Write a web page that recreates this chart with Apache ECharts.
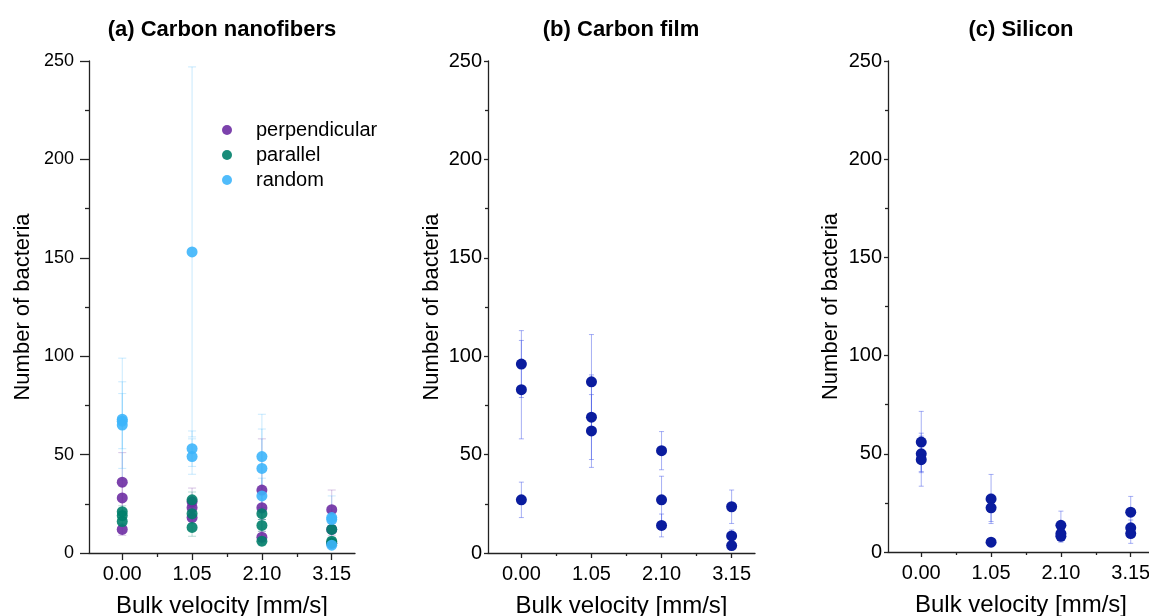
<!DOCTYPE html>
<html>
<head>
<meta charset="utf-8">
<script src="https://cdn.jsdelivr.net/npm/echarts@6/dist/echarts.min.js"></script>
<style>
  html, body { margin: 0; padding: 0; background: #fff; }
  #chart { width: 1149px; height: 616px; }
</style>
</head>
<body>
<div id="chart"></div>
<script>
// bulk velocities (mm/s), three replicates each
const velocities = [0, 1.05, 2.10, 3.15];
const velocityLabels = ["0.00", "1.05", "2.10", "3.15"];
const yTicks = [0, 50, 100, 150, 200, 250];

// (a) carbon nanofibers
const perpMean = [[36, 28, 12], [26, 23, 18], [32, 23, 8], [22, 12, 5]];
const perpErr = [[15, 6, 3], [7, 4, 3], [26, 6, 3], [10, 3, 2]];
const parMean = [[21, 19, 16], [27, 20, 13], [20, 14, 6], [12, 6, 5]];
const parErr = [[3, 2, 2], [4, 3, 4.5], [3, 3, 2], [2, 2, 2]];
const randMean = [[68, 67, 65], [153, 53, 49], [49, 43, 29], [18, 17, 4]];
const randErr = [[31, 14, 22], [94, 9, 9], [21.5, 20, 9], [11, 5, 1.5]];

// (b) carbon film
const filmMean = [[96, 83, 27], [87, 69, 62], [52, 27, 14], [23.5, 8.7, 3.8]];
const filmErr = [[17, 25, 9], [24, 21.5, 18.5], [9.7, 12, 5.8], [8.5, 3, 2]];

// (c) silicon
const siMean = [[56, 50, 47], [27, 22.5, 5], [13.6, 9.4, 8], [20.3, 12.3, 9.4]];
const siErr = [[15.6, 9, 13.5], [12.5, 7, 1], [7.2, 3, 3], [8, 4, 5]];

const FONT = "'Liberation Sans', Arial, sans-serif";

// [x, y, err] rows
function rows(means, errs) {
  const out = [];
  velocities.forEach((v, i) => {
    means[i].forEach((m, j) => out.push([v, m, errs[i][j]]));
  });
  return out;
}

function errorBars(name, idx, data, color, capHalf) {
  return {
    name: name,
    type: "custom",
    xAxisIndex: idx,
    yAxisIndex: idx,
    z: 1,
    silent: true,
    data: data,
    encode: { x: 0, y: 1 },
    renderItem: (params, api) => {
      const x = api.value(0), y = api.value(1), e = api.value(2);
      const hi = api.coord([x, y + e]);
      const lo = api.coord([x, y - e]);
      const style = { stroke: color, lineWidth: 1 };
      return {
        type: "group",
        children: [
          { type: "line", shape: { x1: hi[0], y1: hi[1], x2: lo[0], y2: lo[1] }, style: style },
          { type: "line", shape: { x1: hi[0] - capHalf, y1: hi[1], x2: hi[0] + capHalf, y2: hi[1] }, style: style },
          { type: "line", shape: { x1: lo[0] - capHalf, y1: lo[1], x2: lo[0] + capHalf, y2: lo[1] }, style: style },
        ],
      };
    },
  };
}

function points(name, idx, data, color, opacity) {
  return {
    name: name,
    type: "scatter",
    xAxisIndex: idx,
    yAxisIndex: idx,
    z: 3,
    symbolSize: 11,
    data: data.map((r) => [r[0], r[1]]),
    itemStyle: { color: color, opacity: opacity },
  };
}

const grids = [
  { left: 89, top: 61, width: 266, height: 492, outerBoundsMode: "none" },
  { left: 488, top: 61, width: 267, height: 492, outerBoundsMode: "none" },
  { left: 888, top: 61, width: 266, height: 491, outerBoundsMode: "none" },
];

// per panel axis look
const look = [
  { yFont: 18, yMargin: 15, yTick: 9, yMinor: 4, xTick: 7, xMinor: 4, yNameGap: 55 },
  { yFont: 20, yMargin: 6, yTick: 4, yMinor: 3, xTick: 5, xMinor: 3, yNameGap: 45 },
  { yFont: 20, yMargin: 6, yTick: 4, yMinor: 3, xTick: 5, xMinor: 3, yNameGap: 46 },
];
const axisLineStyle = { color: "#222", width: 1.3 };

const xAxes = [];
const yAxes = [];
look.forEach((l, i) => {
  xAxes.push({
    type: "value",
    gridIndex: i,
    min: -0.5,
    max: 3.5,
    name: "Bulk velocity [mm/s]",
    nameLocation: "middle",
    nameGap: 41,
    nameTextStyle: { fontFamily: FONT, fontSize: 24, color: "#000" },
    axisLine: { show: true, onZero: false, lineStyle: axisLineStyle },
    axisTick: { show: true, length: l.xTick, customValues: velocities, lineStyle: axisLineStyle },
    axisLabel: {
      customValues: velocities,
      formatter: (v) => velocityLabels[velocities.findIndex((t) => Math.abs(t - v) < 1e-6)] || "",
      fontFamily: FONT,
      fontSize: 20,
      color: "#000",
      margin: 11,
      hideOverlap: false,
    },
    splitLine: { show: false },
  });
  yAxes.push({
    type: "value",
    gridIndex: i,
    min: 0,
    max: 250,
    interval: 50,
    name: "Number of bacteria",
    nameLocation: "middle",
    nameGap: l.yNameGap,
    nameTextStyle: { fontFamily: FONT, fontSize: 22, color: "#000" },
    axisLine: { show: true, onZero: false, lineStyle: axisLineStyle },
    axisTick: { show: true, length: l.yTick, lineStyle: axisLineStyle },
    minorTick: { show: true, splitNumber: 2, length: l.yMinor, lineStyle: axisLineStyle },
    axisLabel: { fontFamily: FONT, fontSize: l.yFont, color: "#000", margin: l.yMargin },
    splitLine: { show: false },
  });
});
// minor x ticks between velocities
look.forEach((l, i) => {
  xAxes.push({
    type: "value",
    gridIndex: i,
    min: -0.5,
    max: 3.5,
    position: "bottom",
    axisLine: { show: false },
    axisTick: { show: true, length: l.xMinor, customValues: [0.525, 1.575, 2.625], lineStyle: axisLineStyle },
    axisLabel: { show: false },
    splitLine: { show: false },
  });
});

const PURPLE = "#6e2ea3";
const GREEN = "#00806a";
const BLUE = "#3db5fb";
const NAVY = "#0a1c9e";

const perpRows = rows(perpMean, perpErr);
const parRows = rows(parMean, parErr);
const randRows = rows(randMean, randErr);
const filmRows = rows(filmMean, filmErr);
const siRows = rows(siMean, siErr);

const titleStyle = { fontFamily: FONT, fontSize: 22, fontWeight: "bold", color: "#000" };

const option = {
  animation: false,
  backgroundColor: "#fff",
  title: [
    { text: "(a) Carbon nanofibers", left: 222, top: 19, textAlign: "center", padding: 0, textStyle: titleStyle },
    { text: "(b) Carbon film", left: 621, top: 19, textAlign: "center", padding: 0, textStyle: titleStyle },
    { text: "(c) Silicon", left: 1021, top: 19, textAlign: "center", padding: 0, textStyle: titleStyle },
  ],
  legend: {
    data: ["perpendicular", "parallel", "random"],
    orient: "vertical",
    left: 222,
    top: 120,
    itemWidth: 10,
    itemHeight: 10,
    itemGap: 5,
    icon: "circle",
    padding: 0,
    textStyle: { fontFamily: FONT, fontSize: 20, color: "#000", padding: [0, 0, 0, 19] },
  },
  grid: grids,
  xAxis: xAxes,
  yAxis: yAxes,
  series: [
    errorBars("perpErr", 0, perpRows, "rgba(112,48,160,0.28)", 4),
    errorBars("parErr", 0, parRows, "rgba(0,128,106,0.28)", 4),
    errorBars("randErr", 0, randRows, "rgba(61,181,251,0.28)", 4),
    points("perpendicular", 0, perpRows, PURPLE, 0.9),
    points("parallel", 0, parRows, GREEN, 0.9),
    points("random", 0, randRows, BLUE, 0.9),
    errorBars("filmErr", 1, filmRows, "rgba(60,80,230,0.45)", 2.5),
    points("film", 1, filmRows, NAVY, 1),
    errorBars("siErr", 2, siRows, "rgba(60,80,230,0.45)", 2.5),
    points("silicon", 2, siRows, NAVY, 1),
  ],
};

const chart = echarts.init(document.getElementById("chart"), null, { renderer: "canvas" });
chart.setOption(option);
</script>
</body>
</html>
